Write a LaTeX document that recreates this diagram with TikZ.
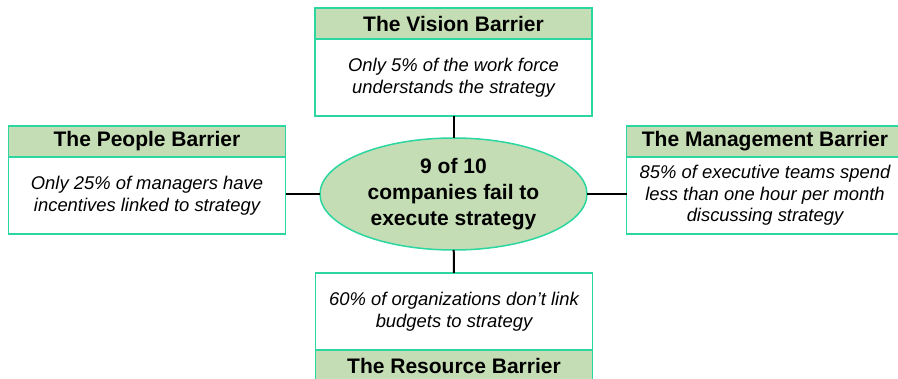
\documentclass[tikz,border=0pt]{standalone}
\usepackage{fontspec}
\setmainfont{Liberation Sans}
\usetikzlibrary{positioning,shapes.geometric}
\definecolor{barline}{RGB}{43,214,160}
\definecolor{barfill}{RGB}{196,221,180}
\begin{document}
\begin{tikzpicture}
[x=1pt,y=-1pt,
every node/.style={draw=barline,line width=1.5pt,inner sep=0pt,outer sep=0pt,align=center},
barhead/.style={fill=barfill,minimum width=277pt,minimum height=31pt,font=\fontsize{21}{25}\selectfont\bfseries},
barbody/.style={fill=white,minimum width=277pt,minimum height=77pt,font=\fontsize{18.4}{21.7}\selectfont\itshape},
link/.style={draw=black,line width=2pt}]
\clip (0,0) rectangle (898,379);
\node[ellipse,fill=barfill,minimum width=267pt,minimum height=112pt,font=\fontsize{21}{26}\selectfont\bfseries] (core) at (453.5,194)
{9 of 10\\companies fail to\\execute strategy};
% top
\node[barhead] (visionHead) at (453.5,23.5) {The Vision Barrier};
\node[barbody,below=0pt of visionHead] (visionBody) {Only 5\% of the work force\\understands the strategy};
% left
\node[barhead] (peopleHead) at (147,141.5) {The People Barrier};
\node[barbody,below=0pt of peopleHead] (peopleBody) {Only 25\% of managers have\\incentives linked to strategy};
% right
\node[barhead] (mgmtHead) at (765,141.5) {The Management Barrier};
\node[barbody,below=0pt of mgmtHead] (mgmtBody) {85\% of executive teams spend\\less than one hour per month\\discussing strategy};
% bottom
\node[barbody] (resBody) at (454,311.5) {60\% of organizations don’t link\\budgets to strategy};
\node[barhead,below=0pt of resBody] (resHead) {The Resource Barrier};
\draw[link] (visionBody) -- (core);
\draw[link] (core.west) -- (core.west -| peopleBody.east);
\draw[link] (core.east) -- (core.east -| mgmtBody.west);
\draw[link] (core) -- (resBody);
\end{tikzpicture}
\end{document}
